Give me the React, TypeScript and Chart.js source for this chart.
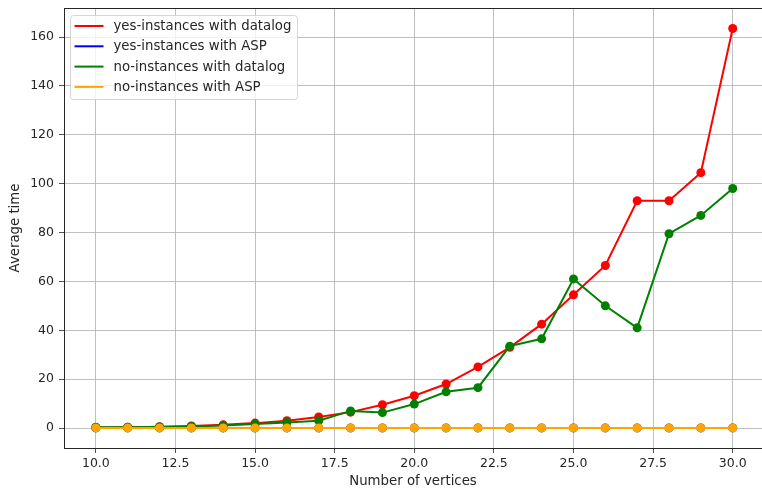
import React, { useEffect, useRef } from "react";
import { Chart, registerables } from "chart.js";

Chart.register(...registerables);

const vertices = [10, 11, 12, 13, 14, 15, 16, 17, 18, 19, 20, 21, 22, 23, 24, 25, 26, 27, 28, 29, 30];
const yesDatalog = [0.2, 0.3, 0.5, 0.8, 1.3, 2.0, 3.0, 4.5, 6.5, 9.5, 13.2, 18.0, 25.0, 33.0, 42.5, 54.5, 66.5, 93.0, 93.0, 104.5, 163.5];
const yesASP = [0.05, 0.05, 0.05, 0.05, 0.05, 0.05, 0.05, 0.05, 0.05, 0.05, 0.05, 0.05, 0.05, 0.05, 0.05, 0.05, 0.05, 0.05, 0.05, 0.05, 0.05];
const noDatalog = [0.3, 0.3, 0.4, 0.6, 1.0, 1.6, 2.3, 3.0, 7.0, 6.3, 9.8, 14.8, 16.5, 33.5, 36.5, 61.0, 50.0, 41.0, 79.5, 87.0, 98.0];
const noASP = [0.04, 0.04, 0.04, 0.04, 0.04, 0.04, 0.04, 0.04, 0.04, 0.04, 0.04, 0.04, 0.04, 0.04, 0.04, 0.04, 0.04, 0.04, 0.04, 0.04, 0.04];
const seriesLabels = [
  "yes-instances with datalog",
  "yes-instances with ASP",
  "no-instances with datalog",
  "no-instances with ASP",
];
const seriesColors = ["#ff0000", "#0000ff", "#008000", "#ffa500"];
const xTicks = [10, 12.5, 15, 17.5, 20, 22.5, 25, 27.5, 30];
const yTicks = [0, 20, 40, 60, 80, 100, 120, 140, 160];

const FONT = "'DejaVu Sans', sans-serif";

const framePlugin = {
  id: "frameAndLegend",
  afterDraw(chart: any) {
    const { ctx, chartArea } = chart;
    ctx.save();
    // top spine
    ctx.strokeStyle = "#262626";
    ctx.lineWidth = 1;
    ctx.beginPath();
    ctx.moveTo(chartArea.left, chartArea.top + 0.5);
    ctx.lineTo(chart.width, chartArea.top + 0.5);
    ctx.stroke();

    // legend
    const bx = chartArea.left + 6.5;
    const by = chartArea.top + 7.5;
    const bw = 227;
    const bh = 84;
    const r = 3;
    ctx.beginPath();
    ctx.moveTo(bx + r, by);
    ctx.lineTo(bx + bw - r, by);
    ctx.arcTo(bx + bw, by, bx + bw, by + r, r);
    ctx.lineTo(bx + bw, by + bh - r);
    ctx.arcTo(bx + bw, by + bh, bx + bw - r, by + bh, r);
    ctx.lineTo(bx + r, by + bh);
    ctx.arcTo(bx, by + bh, bx, by + bh - r, r);
    ctx.lineTo(bx, by + r);
    ctx.arcTo(bx, by, bx + r, by, r);
    ctx.closePath();
    ctx.fillStyle = "rgba(255,255,255,0.8)";
    ctx.fill();
    ctx.strokeStyle = "rgba(204,204,204,0.8)";
    ctx.stroke();

    ctx.font = `13.3px ${FONT}`;
    ctx.textBaseline = "middle";
    ctx.textAlign = "left";
    chart.data.datasets.forEach((ds: any, i: number) => {
      const cy = by + 10.5 + i * 20.3;
      ctx.strokeStyle = ds.borderColor;
      ctx.lineWidth = 2;
      ctx.beginPath();
      ctx.moveTo(bx + 4, cy);
      ctx.lineTo(bx + 33, cy);
      ctx.stroke();
      ctx.fillStyle = "#262626";
      ctx.fillText(ds.label, bx + 43, cy + 0.5);
    });
    ctx.restore();
  },
};

function zeroPadding(scale: any) {
  scale.paddingTop = 0;
  scale.paddingBottom = 0;
  scale.paddingLeft = 0;
  scale.paddingRight = 0;
}

export default function App() {
  const ref = useRef<HTMLCanvasElement | null>(null);

  useEffect(() => {
    if (!ref.current) return;
    const series = [yesDatalog, yesASP, noDatalog, noASP];
    const chart = new Chart(ref.current, {
      type: "line",
      data: {
        datasets: series.map((vals, i) => ({
          label: seriesLabels[i],
          data: vertices.map((v, j) => ({ x: v, y: vals[j] })),
          borderColor: seriesColors[i],
          backgroundColor: seriesColors[i],
          pointBackgroundColor: seriesColors[i],
          pointBorderWidth: 0,
          pointRadius: 4.5,
          borderWidth: 2,
          tension: 0,
          fill: false,
          order: 4 - i,
        })),
      },
      options: {
        animation: false,
        responsive: false,
        devicePixelRatio: 1,
        layout: { autoPadding: false, padding: { left: 0, right: 0, top: 8, bottom: 0 } },
        plugins: {
          legend: { display: false },
          tooltip: { enabled: false },
        },
        scales: {
          x: {
            type: "linear",
            min: 9,
            max: 30.92,
            afterBuildTicks: (scale: any) => {
              scale.ticks = xTicks.map((v) => ({ value: v }));
            },
            afterFit: (scale: any) => {
              scale.height = 42;
              zeroPadding(scale);
            },
            ticks: {
              callback: (v: any) => Number(v).toFixed(1),
              font: { family: FONT, size: 12.5 },
              color: "#262626",
              padding: 3,
              maxRotation: 0,
              autoSkip: false,
            },
            grid: {
              color: "#b0b0b0",
              lineWidth: 0.8,
              tickLength: 5,
              tickColor: "#262626",
            },
            border: { color: "#262626", width: 1 },
            title: {
              display: true,
              text: "Number of vertices",
              font: { family: FONT, size: 13.3 },
              color: "#262626",
              padding: { top: 0, bottom: 0 },
            },
          },
          y: {
            type: "linear",
            min: -8.18,
            max: 171.87,
            afterBuildTicks: (scale: any) => {
              scale.ticks = yTicks.map((v) => ({ value: v }));
            },
            afterFit: (scale: any) => {
              scale.width = 64;
              zeroPadding(scale);
            },
            ticks: {
              callback: (v: any) => String(v),
              font: { family: FONT, size: 12.5 },
              color: "#262626",
              padding: 5,
              autoSkip: false,
            },
            grid: {
              color: "#b0b0b0",
              lineWidth: 0.8,
              tickLength: 5,
              tickColor: "#262626",
            },
            border: { color: "#262626", width: 1 },
            title: {
              display: true,
              text: "Average time",
              font: { family: FONT, size: 13.3 },
              color: "#262626",
              padding: { top: 8, bottom: 0 },
            },
          },
        },
      },
      plugins: [framePlugin],
    });
    return () => chart.destroy();
  }, []);

  return (
    <div style={{ position: "absolute", left: 0, top: 0, width: 762, height: 490, overflow: "hidden" }}>
      <canvas ref={ref} width={762} height={490} style={{ display: "block" }} />
    </div>
  );
}
